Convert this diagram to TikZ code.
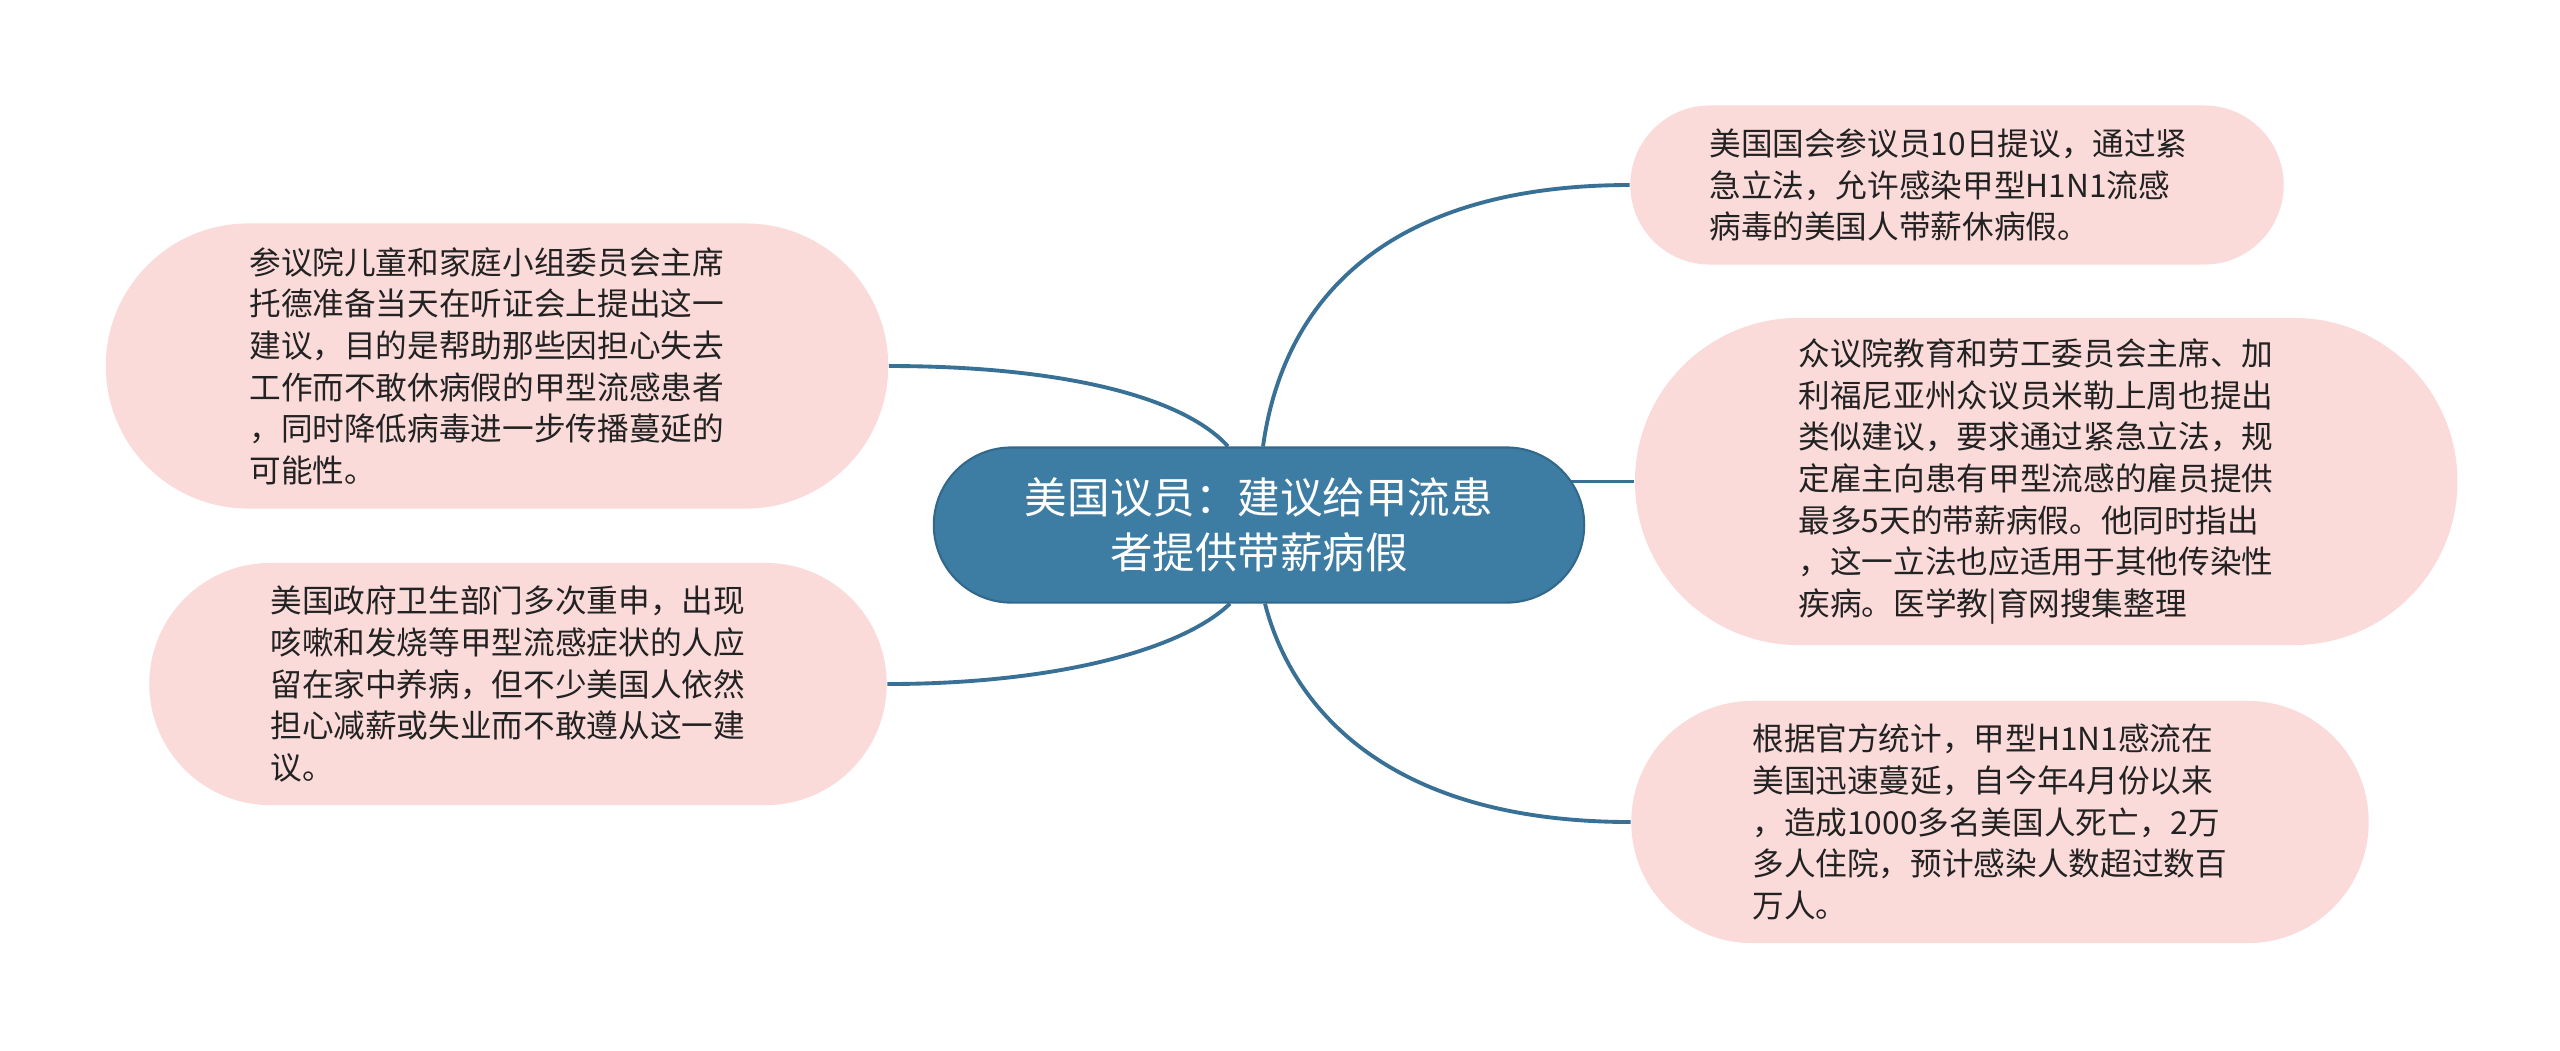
\documentclass[tikz,border=0pt]{standalone}
\usepackage{fontspec}
\setmainfont{Noto Sans CJK SC}
\usepackage{xcolor}
\usetikzlibrary{calc, positioning, backgrounds}
\definecolor{rootblue}{RGB}{62,125,163}
\definecolor{rootedge}{RGB}{50,104,138}
\definecolor{linkblue}{RGB}{57,113,150}
\definecolor{leafpink}{RGB}{250,219,218}
\definecolor{leaftext}{RGB}{34,34,34}

\begin{document}
\begin{tikzpicture}[x=0.01cm, y=-0.01cm]
    \tikzstyle{root}=[draw=rootedge, line width=0.6pt, fill=rootblue, text=white, rectangle, align=center, inner sep=0pt, font=\fontsize{12.1pt}{15.6pt}\selectfont]
    \tikzstyle{leaf}=[fill=leafpink, text=leaftext, rectangle, text width=4.95cm, align=left, inner sep=0pt, font=\fontsize{9pt}{11.85pt}\selectfont]
    \tikzstyle{link}=[draw=linkblue, line width=1.1pt]

    \useasboundingbox (0,0) rectangle (2560,1050);

    \node[root, minimum width=6.5cm, minimum height=1.55cm, rounded corners=0.775cm] (c) at (1259,525) {美国议员：建议给甲流患\\者提供带薪病假};

    % left side
    \node[leaf, minimum width=7.82cm, minimum height=2.85cm, rounded corners=1.425cm] (l1) at (497,366) {参议院儿童和家庭小组委员会主席\\托德准备当天在听证会上提出这一\\建议，目的是帮助那些因担心失去\\工作而不敢休病假的甲型流感患者\\，同时降低病毒进一步传播蔓延的\\可能性。};
    \node[leaf, minimum width=7.37cm, minimum height=2.42cm, rounded corners=1.21cm] (l2) at (518,684) {美国政府卫生部门多次重申，出现\\咳嗽和发烧等甲型流感症状的人应\\留在家中养病，但不少美国人依然\\担心减薪或失业而不敢遵从这一建\\议。};

    % right side
    \node[leaf, minimum width=6.53cm, minimum height=1.59cm, rounded corners=0.795cm] (r1) at (1957,185) {美国国会参议员10日提议，通过紧\\急立法，允许感染甲型H1N1流感\\病毒的美国人带薪休病假。};
    \node[leaf, right=0.49cm of c, yshift=0.435cm, minimum width=8.22cm, minimum height=3.27cm, rounded corners=1.635cm] (r2) {众议院教育和劳工委员会主席、加\\利福尼亚州众议员米勒上周也提出\\类似建议，要求通过紧急立法，规\\定雇主向患有甲型流感的雇员提供\\最多5天的带薪病假。他同时指出\\，这一立法也应适用于其他传染性\\疾病。医学教|育网搜集整理};
    \node[leaf, minimum width=7.37cm, minimum height=2.42cm, rounded corners=1.21cm] (r3) at (2000,822) {根据官方统计，甲型H1N1感流在\\美国迅速蔓延，自今年4月份以来\\，造成1000多名美国人死亡，2万\\多人住院，预计感染人数超过数百\\万人。};

    \begin{scope}[on background layer]
        \fill[white] (0,0) rectangle (2560,1050);
        \draw[link] ($(c.north)+(4,0)$) .. controls +(22,-158) and +(-230,0) .. (r1.west);
        \draw[link] (c.center |- r2.west) -- (r2.west);
        \draw[link] ($(c.south)+(6,0)$) .. controls +(25,98) and +(-250,0) .. (r3.west);
        \draw[link] ($(c.north)+(-31,0)$) .. controls +(-48,-53) and +(162,0) .. (l1.east);
        \draw[link] ($(c.south)+(-29,0)$) .. controls +(-50,48) and +(162,0) .. (l2.east);
    \end{scope}
\end{tikzpicture}
\end{document}
